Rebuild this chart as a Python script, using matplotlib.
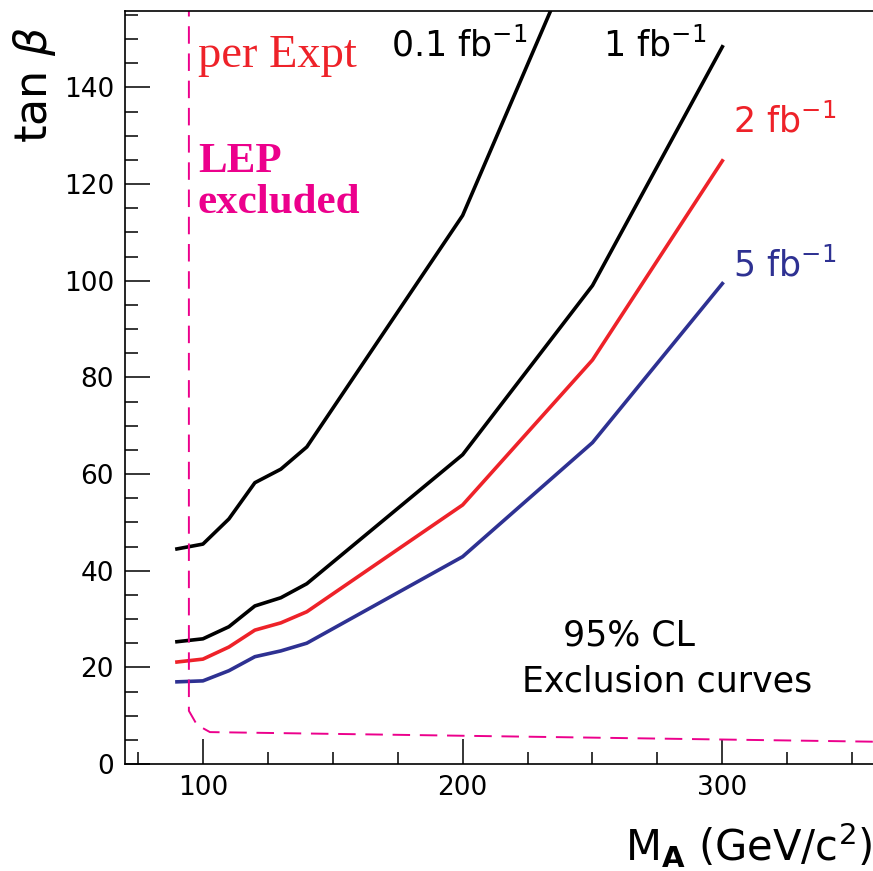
import matplotlib.pyplot as plt
from matplotlib.ticker import MultipleLocator

# mass points (GeV/c^2)
mass = [90, 100, 110, 120, 130, 140, 200, 250, 300]

# 95% CL exclusion curves (tan beta)
tb_01fb = [44.5, 45.5, 50.7, 58.2, 61.0, 65.6, 113.5, 176.0]
tb_1fb = [25.3, 25.9, 28.4, 32.7, 34.4, 37.3, 64.0, 99.0, 148.4]
tb_2fb = [21.1, 21.7, 24.2, 27.7, 29.2, 31.5, 53.6, 83.6, 124.8]
tb_5fb = [17.0, 17.2, 19.3, 22.2, 23.4, 25.0, 42.9, 66.5, 99.4]

# LEP excluded boundary
lep_mass = [94.6, 94.6, 97.7, 102.7, 360.0]
lep_tb = [160.0, 11.0, 8.1, 6.6, 4.6]

BLACK = "black"
RED = "#ee2229"
BLUE = "#2e3192"
MAGENTA = "#ec008c"

fig = plt.figure(figsize=(8.73, 8.71), dpi=100)
ax = fig.add_axes([125 / 873, 107 / 871, 748 / 873, 753 / 871])

ax.plot(mass[:len(tb_01fb)], tb_01fb, color=BLACK, lw=2.6, solid_joinstyle="round")
ax.plot(mass, tb_1fb, color=BLACK, lw=2.6, solid_joinstyle="round")
ax.plot(mass, tb_2fb, color=RED, lw=2.6, solid_joinstyle="round")
ax.plot(mass, tb_5fb, color=BLUE, lw=2.6, solid_joinstyle="round")
ax.plot(lep_mass, lep_tb, color=MAGENTA, lw=1.4, dashes=(9, 5))

ax.set_xlim(70, 358)
ax.set_ylim(0, 155.8)

ax.spines["right"].set_visible(False)
for s in ["left", "bottom", "top"]:
    ax.spines[s].set_linewidth(1.2)

ax.xaxis.set_major_locator(MultipleLocator(100))
ax.xaxis.set_minor_locator(MultipleLocator(25))
ax.yaxis.set_major_locator(MultipleLocator(20))
ax.yaxis.set_minor_locator(MultipleLocator(5))
ax.tick_params(which="both", direction="in", top=False, right=False, width=1.1)
ax.tick_params(which="major", length=18, labelsize=19, pad=8)
ax.tick_params(which="minor", length=9)

serif = ["Liberation Serif", "DejaVu Serif"]
ax.text(98.1, 144.2, "per Expt", color=RED, fontsize=33.5, family=serif, va="baseline")
ax.text(98.1, 122.4, "LEP", color=MAGENTA, fontsize=31, family=serif,
        fontweight="bold", va="baseline")
ax.text(98.1, 114.1, "excluded", color=MAGENTA, fontsize=31, family=serif,
        fontweight="bold", va="baseline")

ax.text(198.8, 146.4, r"0.1 fb$^{-1}$", fontsize=25, va="baseline", ha="center")
ax.text(273.8, 146.4, r"1 fb$^{-1}$", fontsize=25, va="baseline", ha="center")
ax.text(323.8, 130.6, r"2 fb$^{-1}$", fontsize=25, va="baseline", ha="center", color=RED)
ax.text(323.8, 100.8, r"5 fb$^{-1}$", fontsize=25, va="baseline", ha="center", color=BLUE)

ax.text(264, 24.6, "95% CL", fontsize=25, va="baseline", ha="center")
ax.text(278.8, 14.9, "Exclusion curves", fontsize=25, va="baseline", ha="center")

fig.text(35 / 873, 1 - 85 / 871, r"tan $\beta$", fontsize=32, rotation=90, ha="center", va="center")
fig.text(1.0, 1 - 845 / 871, r"M$_{\mathbf{A}}$ (GeV/c$^2$)", fontsize=30, ha="right", va="center")

fig.savefig("out.png", dpi=100)
